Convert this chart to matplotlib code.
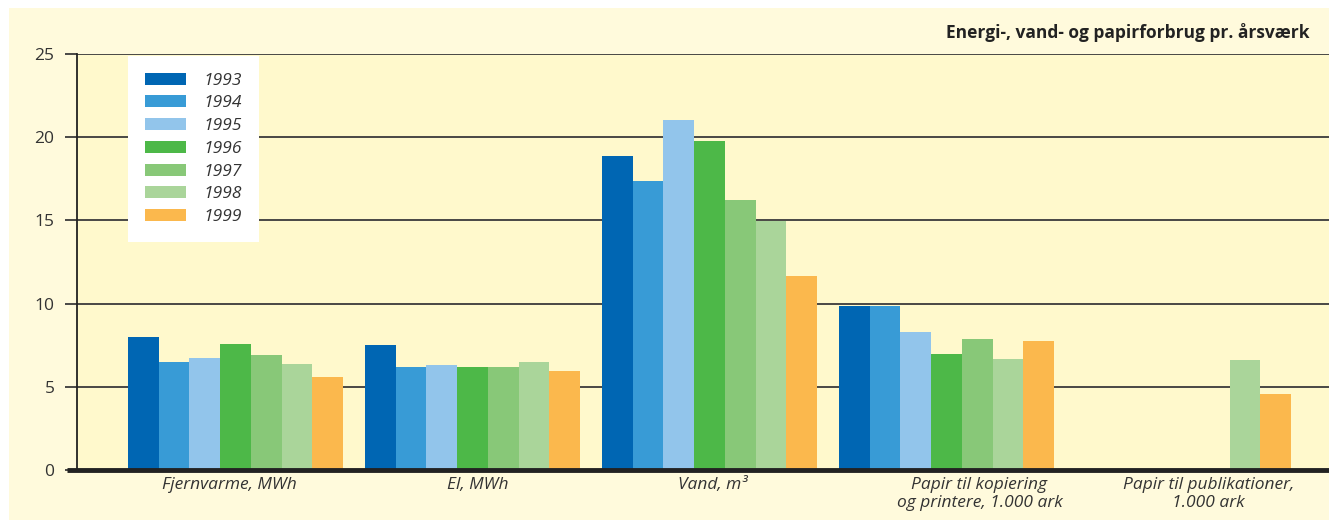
import numpy as np
import matplotlib
matplotlib.use('Agg')
import matplotlib.pyplot as plt
from matplotlib.patches import Rectangle, Patch
from matplotlib.transforms import offset_copy

# Forbrug pr. årsværk fordelt på kategori og år
kategorier = ['Fjernvarme, MWh', 'El, MWh', 'Vand, m³',
              'Papir til kopiering\nog printere, 1.000 ark',
              'Papir til publikationer,\n1.000 ark']
aar = ['1993', '1994', '1995', '1996', '1997', '1998', '1999']

v1993 = [8.0, 7.5, 18.9, 9.85, np.nan]
v1994 = [6.5, 6.2, 17.35, 9.85, np.nan]
v1995 = [6.75, 6.3, 21.05, 8.3, np.nan]
v1996 = [7.55, 6.2, 19.75, 6.95, np.nan]
v1997 = [6.9, 6.2, 16.2, 7.9, np.nan]
v1998 = [6.35, 6.5, 14.95, 6.7, 6.6]
v1999 = [5.6, 5.95, 11.65, 7.75, 4.55]
serier = [v1993, v1994, v1995, v1996, v1997, v1998, v1999]

farver = ['#0066B3', '#389BD6', '#92C5EB', '#4DB848', '#88C878', '#AAD59A', '#FBB84D']

plt.rcParams['font.family'] = ['Open Sans', 'DejaVu Sans']
tekstfarve = '#333333'

fig = plt.figure(figsize=(13.29, 5.20), dpi=100)
fig.patch.set_facecolor('white')
# lys baggrund bag hele diagrammet
fig.patches.append(Rectangle((9 / 1329, 0), 1, 1 - 8 / 520, transform=fig.transFigure,
                             facecolor='#FFFADC', edgecolor='none', zorder=-5))

ax = fig.add_axes([76.7 / 1329, 50 / 520, 1 - 76.7 / 1329, 416 / 520])
ax.set_facecolor('#FFF9CC')

x = np.arange(len(kategorier))
bredde = 0.1296
for i, (vaerdier, farve, lbl) in enumerate(zip(serier, farver, aar)):
    ax.bar(x + (i - 3) * bredde, vaerdier, width=bredde, color=farve,
           edgecolor='none', label=lbl, zorder=3)

ax.set_xlim(-0.67, 4.614)
ax.set_ylim(0, 25)
ax.set_yticks([0, 5, 10, 15, 20, 25])
ax.yaxis.grid(True, color='#3a3a3a', linewidth=1.3, zorder=1)
ax.set_axisbelow(True)
ax.tick_params(axis='y', length=9, width=1.3, color='#3a3a3a', pad=7,
               labelsize=12.5, labelcolor=tekstfarve)
ax.tick_params(axis='x', length=0, labelbottom=False)

for s in ['top', 'right', 'bottom']:
    ax.spines[s].set_visible(False)
ax.spines['left'].set_color('#222222')
ax.spines['left'].set_linewidth(1.3)

# kraftig grundlinje ved 0
ax.plot([-0.0075, 1], [0, 0], transform=ax.get_yaxis_transform(), color='#222222',
        linewidth=3.5, clip_on=False, zorder=5, solid_capstyle='butt')

# kategorinavne under grupperne
forskyd = [-6, 5, 3, 33, 25]
for xi, navn, dx in zip(x, kategorier, forskyd):
    tr = offset_copy(ax.transData, fig=fig, x=dx, y=0, units='dots')
    ax.text(xi, -0.45, navn, transform=tr, ha='center', va='top', fontsize=12.5,
            style='italic', color=tekstfarve, linespacing=1.12)

fig.text(1310 / 1329, 1 - 33 / 520, 'Energi-, vand- og papirforbrug pr. årsværk',
         ha='right', va='center', fontsize=12.5, fontweight='bold', color='#222222')

handles = [Patch(facecolor=f, edgecolor='none') for f in farver]
leg = ax.legend(handles, aar, loc='upper left', bbox_to_anchor=(51.3 / 1252, 0.995),
                frameon=True, fancybox=False, framealpha=1, facecolor='white',
                edgecolor='none', borderpad=0.95, labelspacing=0.38, handlelength=2.4,
                handleheight=0.7, handletextpad=1.0, borderaxespad=0,
                prop={'size': 12.5, 'style': 'italic'})
for t in leg.get_texts():
    t.set_color(tekstfarve)

fig.savefig('out.png', dpi=100, facecolor=fig.get_facecolor())
